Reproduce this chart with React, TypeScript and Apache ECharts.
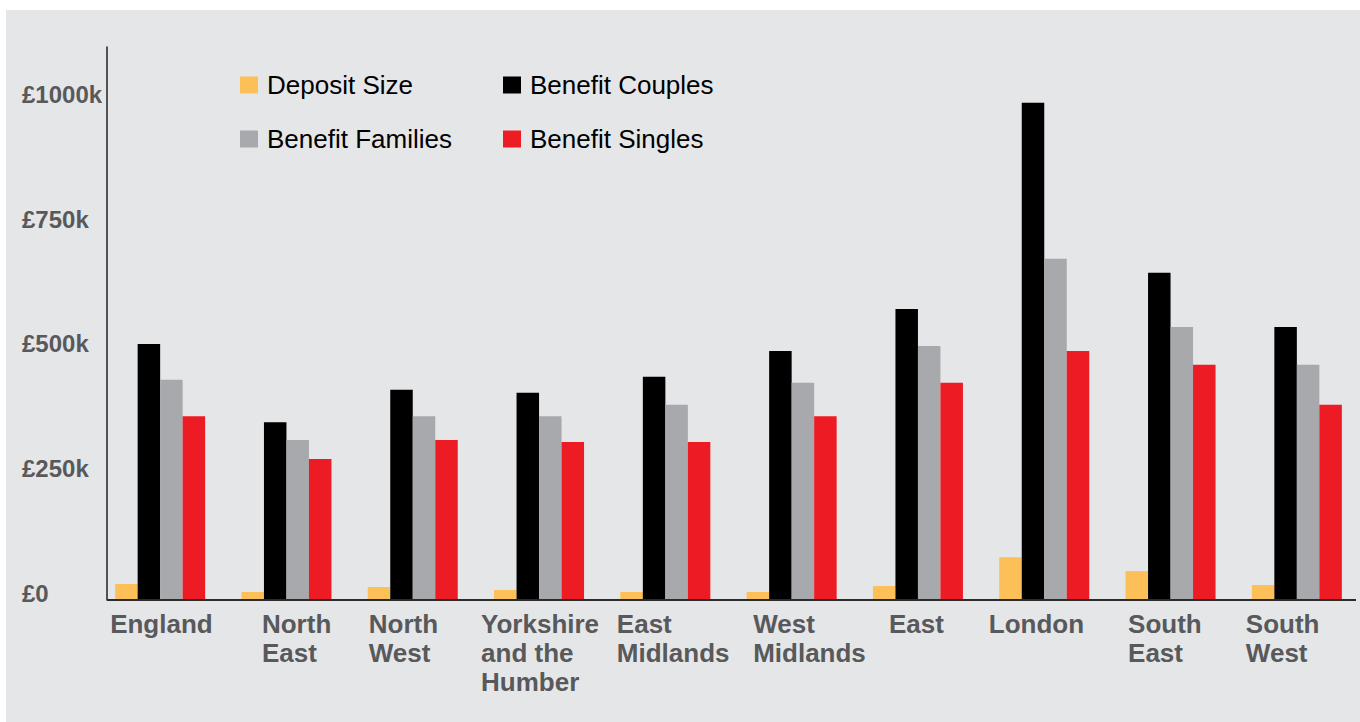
import React, { useEffect, useRef } from "react";
import * as echarts from "echarts";

const categories = [
  "England",
  "North\nEast",
  "North\nWest",
  "Yorkshire\nand the\nHumber",
  "East\nMidlands",
  "West\nMidlands",
  "East",
  "London",
  "South\nEast",
  "South\nWest",
];

// values in £ thousands
const depositSize = [32, 16, 26, 20, 16, 16, 28, 86, 58, 30];
const benefitCouples = [514, 357, 422, 416, 448, 500, 584, 998, 657, 548];
const benefitFamilies = [442, 321, 369, 369, 392, 436, 510, 685, 548, 472];
const benefitSingles = [369, 283, 321, 317, 317, 369, 436, 500, 472, 392];

const yTicks = [0, 250, 500, 750, 1000];

// layout only: width of each category label box (left-aligned text, box centred on category)
const labelBoxWidths = [100, 49, 88, 116, 97, 77, 58, 111, 85, 102];

const FONT = "'Liberation Sans', Arial, Helvetica, sans-serif";
const LABEL = "#58595b";

export default function App() {
  const ref = useRef<HTMLDivElement>(null);

  useEffect(() => {
    document.body.style.margin = "0";
    const chart = echarts.init(ref.current!, null, { renderer: "svg" });
    const mk = (name: string, data: number[], color: string) => ({
      name,
      type: "bar",
      data,
      barWidth: 22.5,
      barGap: "0%",
      itemStyle: { color },
      emphasis: { disabled: true },
    });
    const legendText = {
      color: "#000",
      fontFamily: FONT,
      fontSize: 26,
      lineHeight: 24,
      padding: [0, 0, 0, 4],
    };
    const rich: Record<string, any> = {};
    labelBoxWidths.forEach((w, i) => {
      rich["c" + i] = {
        width: w,
        align: "left",
        fontSize: 26,
        fontWeight: "bold",
        color: LABEL,
        lineHeight: 29,
        fontFamily: FONT,
      };
    });
    chart.setOption({
      animation: false,
      backgroundColor: "#ffffff",
      textStyle: { fontFamily: FONT },
      graphic: [
        {
          type: "rect",
          z: -10,
          silent: true,
          shape: { x: 6, y: 10, width: 1354, height: 712 },
          style: { fill: "#e5e6e8" },
        },
        {
          type: "line",
          z: 10,
          silent: true,
          shape: { x1: 107, y1: 600, x2: 1356, y2: 600 },
          style: { stroke: "#2b2b2b", lineWidth: 2 },
        },
      ],
      legend: [
        {
          orient: "vertical",
          left: 240,
          top: 72,
          padding: 0,
          itemWidth: 18,
          itemHeight: 17,
          itemGap: 28,
          icon: "rect",
          selectedMode: false,
          data: ["Deposit Size", "Benefit Families"],
          textStyle: legendText,
        },
        {
          orient: "vertical",
          left: 503,
          top: 72,
          padding: 0,
          itemWidth: 18,
          itemHeight: 17,
          itemGap: 28,
          icon: "rect",
          selectedMode: false,
          data: ["Benefit Couples", "Benefit Singles"],
          textStyle: legendText,
        },
      ],
      grid: { left: 97, right: 0, top: 47, bottom: 122, containLabel: false },
      xAxis: {
        type: "category",
        data: categories,
        axisLine: { show: false },
        axisTick: { show: false },
        axisLabel: {
          interval: 0,
          margin: 9,
          align: "center",
          formatter: (v: string, idx: number) =>
            v
              .split("\n")
              .map((l) => `{c${idx}|${l}}`)
              .join("\n"),
          rich,
        },
      },
      yAxis: {
        type: "value",
        min: 0,
        max: 1110,
        interval: 250,
        offset: -10,
        splitLine: { show: false },
        axisTick: { show: false },
        axisLine: { show: true, lineStyle: { color: "#231f20", width: 1.5 } },
        axisLabel: {
          showMaxLabel: false,
          align: "left",
          margin: 85,
          verticalAlign: "bottom",
          lineHeight: 14,
          fontSize: 24,
          fontWeight: "bold",
          color: LABEL,
          fontFamily: FONT,
          formatter: (v: number) =>
            yTicks.includes(v) ? (v === 0 ? "£0" : `£${v}k`) : "",
        },
      },
      series: [
        mk("Deposit Size", depositSize, "#fdbf57"),
        mk("Benefit Couples", benefitCouples, "#000000"),
        mk("Benefit Families", benefitFamilies, "#a8a9ac"),
        mk("Benefit Singles", benefitSingles, "#ed1c24"),
      ],
    });
    return () => chart.dispose();
  }, []);

  return <div ref={ref} style={{ width: 1360, height: 722 }} />;
}
